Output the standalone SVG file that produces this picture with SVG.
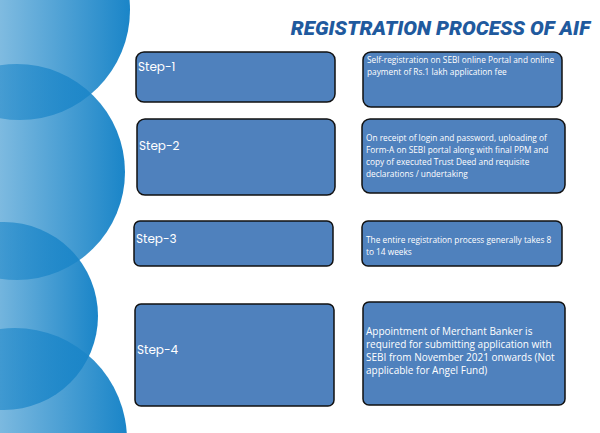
<svg xmlns="http://www.w3.org/2000/svg" width="600" height="433" viewBox="0 0 600 433">
<defs>
<linearGradient id="g" x1="0" y1="0" x2="1" y2="0">
<stop offset="0" stop-color="#1a85c8" stop-opacity="0.25"/>
<stop offset="1" stop-color="#1a85c8" stop-opacity="1"/>
</linearGradient>
<style>
.b{fill:#4f81bd;stroke:#111;stroke-width:1.5}
.s{font-family:"Poppins","Noto Sans",sans-serif;font-size:12px;fill:#fff}
.t{font-family:"Open Sans","Noto Sans",sans-serif;font-size:8.3px;fill:#fff}
.t4{font-family:"Open Sans","Noto Sans",sans-serif;font-size:10px;fill:#fff}
</style>
</defs>
<rect width="600" height="433" fill="#fff"/>
<g id="bg">
<circle cx="20" cy="10" r="110" fill="url(#g)"/>
<circle cx="17" cy="172" r="108" fill="url(#g)"/>
<circle cx="4" cy="316" r="94" fill="url(#g)"/>
<circle cx="15" cy="440" r="112" fill="url(#g)"/>
</g>
<text x="590" y="35" text-anchor="end" font-family="Roboto,sans-serif" font-weight="900" font-style="italic" font-size="20.5" fill="#1f5a9e">REGISTRATION PROCESS OF AIF</text>
<g id="step1"><rect class="b" x="136" y="52" width="199" height="50" rx="8"/><text class="s" x="138" y="71">Step-1</text></g>
<g id="step2"><rect class="b" x="137" y="119" width="198" height="76" rx="8"/><text class="s" x="139" y="150">Step-2</text></g>
<g id="step3"><rect class="b" x="134" y="221" width="199" height="45" rx="6"/><text class="s" x="136" y="243">Step-3</text></g>
<g id="step4"><rect class="b" x="135" y="304" width="199" height="102" rx="6"/><text class="s" x="137" y="354">Step-4</text></g>
<g id="d1"><rect class="b" x="363" y="52" width="199" height="55" rx="8"/><text class="t"><tspan x="367" y="63">Self-registration on SEBI online Portal and online</tspan><tspan x="367" y="75">payment of Rs.1 lakh application fee</tspan></text></g>
<g id="d2"><rect class="b" x="362" y="119" width="203" height="74" rx="8"/><text class="t"><tspan x="366" y="141">On receipt of login and password, uploading of</tspan><tspan x="366" y="153">Form-A on SEBI portal along with final PPM and</tspan><tspan x="366" y="165">copy of executed Trust Deed and requisite</tspan><tspan x="366" y="177">declarations / undertaking</tspan></text></g>
<g id="d3"><rect class="b" x="362" y="221" width="200" height="45" rx="6"/><text class="t"><tspan x="366" y="243">The entire registration process generally takes 8</tspan><tspan x="366" y="255">to 14 weeks</tspan></text></g>
<g id="d4"><rect class="b" x="363" y="302" width="202" height="103" rx="6"/><text class="t4"><tspan x="366" y="335">Appointment of Merchant Banker is</tspan><tspan x="366" y="348">required for submitting application with</tspan><tspan x="366" y="361">SEBI from November 2021 onwards (Not</tspan><tspan x="366" y="374">applicable for Angel Fund)</tspan></text></g>
<g id="connectors"/>
</svg>
